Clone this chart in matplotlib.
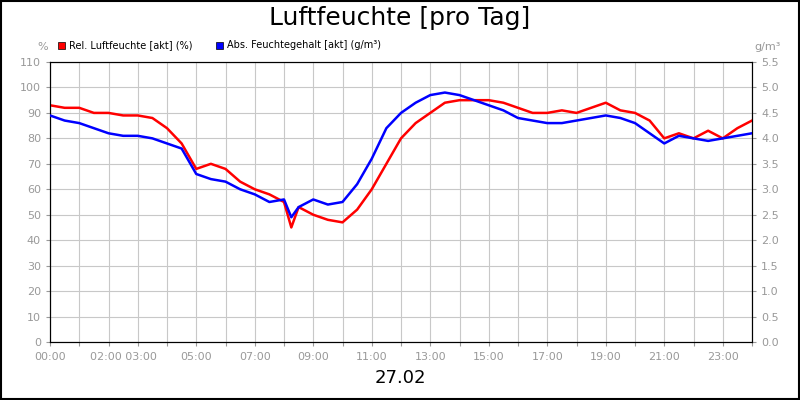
import matplotlib
matplotlib.use("Agg")
import matplotlib.pyplot as plt
from matplotlib.patches import Rectangle

# time in hours
hours = [0, 0.5, 1, 1.5, 2, 2.5, 3, 3.5, 4, 4.5, 5, 5.5, 6, 6.5, 7, 7.5, 8, 8.25, 8.5,
         9, 9.5, 10, 10.5, 11, 11.5, 12, 12.5, 13, 13.5, 14, 14.5, 15, 15.5, 16, 16.5,
         17, 17.5, 18, 18.5, 19, 19.5, 20, 20.5, 21, 21.5, 22, 22.5, 23, 23.5, 24]
rel_hum = [93, 92, 92, 90, 90, 89, 89, 88, 84, 78, 68, 70, 68, 63, 60, 58, 55, 45, 53,
           50, 48, 47, 52, 60, 70, 80, 86, 90, 94, 95, 95, 95, 94, 92, 90,
           90, 91, 90, 92, 94, 91, 90, 87, 80, 82, 80, 83, 80, 84, 87]
abs_hum = [4.45, 4.35, 4.3, 4.2, 4.1, 4.05, 4.05, 4.0, 3.9, 3.8, 3.3, 3.2, 3.15, 3.0, 2.9,
           2.75, 2.8, 2.45, 2.65, 2.8, 2.7, 2.75, 3.1, 3.6, 4.2, 4.5, 4.7, 4.85, 4.9, 4.85,
           4.75, 4.65, 4.55, 4.4, 4.35, 4.3, 4.3, 4.35, 4.4, 4.45, 4.4, 4.3, 4.1, 3.9,
           4.05, 4.0, 3.95, 4.0, 4.05, 4.1]
tick_hours = [0, 2.5, 5, 7, 9, 11, 13, 15, 17, 19, 21, 23]
tick_labels = ["00:00", "02:00 03:00", "05:00", "07:00", "09:00", "11:00",
               "13:00", "15:00", "17:00", "19:00", "21:00", "23:00"]

fig = plt.figure(figsize=(8, 4), dpi=100)
ax = fig.add_axes([0.0625, 0.145, 0.8775, 0.7])
ax2 = ax.twinx()

ax.plot(hours, rel_hum, color="red", linewidth=1.8, zorder=3)
ax2.plot(hours, abs_hum, color="blue", linewidth=1.8, zorder=3)

ax.set_xlim(0, 24)
ax.set_ylim(0, 110)
ax2.set_ylim(0, 5.5)
ax.set_yticks(range(0, 111, 10))
ax2.set_yticks([i * 0.5 for i in range(12)])
ax2.set_yticklabels([f"{i * 0.5:.1f}" for i in range(12)])
ax.set_xticks(range(0, 25))
ax.set_xticklabels([""] * 25)
for h, lab in zip(tick_hours, tick_labels):
    ax.text(h, -4, lab, ha="center", va="top", fontsize=8, color="#999999")
ax.grid(True, color="#c8c8c8", linewidth=0.8)
for a in (ax, ax2):
    a.tick_params(labelsize=8, colors="#999999", length=3)
    for s in a.spines.values():
        s.set_color("black")

fig.text(0.5, 0.955, "Luftfeuchte [pro Tag]", ha="center", va="center", fontsize=18)
fig.text(0.5, 0.055, "27.02", ha="center", va="center", fontsize=13)
fig.text(0.053, 0.882, "%", ha="center", va="center", fontsize=8, color="#999999")
fig.text(0.96, 0.882, "g/m³", ha="center", va="center", fontsize=8, color="#999999")

fig.patches.append(Rectangle((0.072, 0.878), 0.009, 0.018, transform=fig.transFigure,
                             facecolor="red", edgecolor="black", linewidth=0.5))
fig.text(0.086, 0.887, "Rel. Luftfeuchte [akt] (%)", va="center", fontsize=7)
fig.patches.append(Rectangle((0.27, 0.878), 0.009, 0.018, transform=fig.transFigure,
                             facecolor="blue", edgecolor="black", linewidth=0.5))
fig.text(0.284, 0.887, "Abs. Feuchtegehalt [akt] (g/m³)", va="center", fontsize=7)

fig.patches.append(Rectangle((0.001, 0.002), 0.998, 0.996, transform=fig.transFigure,
                             fill=False, edgecolor="black", linewidth=1.5))

fig.savefig("out.png", dpi=100)
